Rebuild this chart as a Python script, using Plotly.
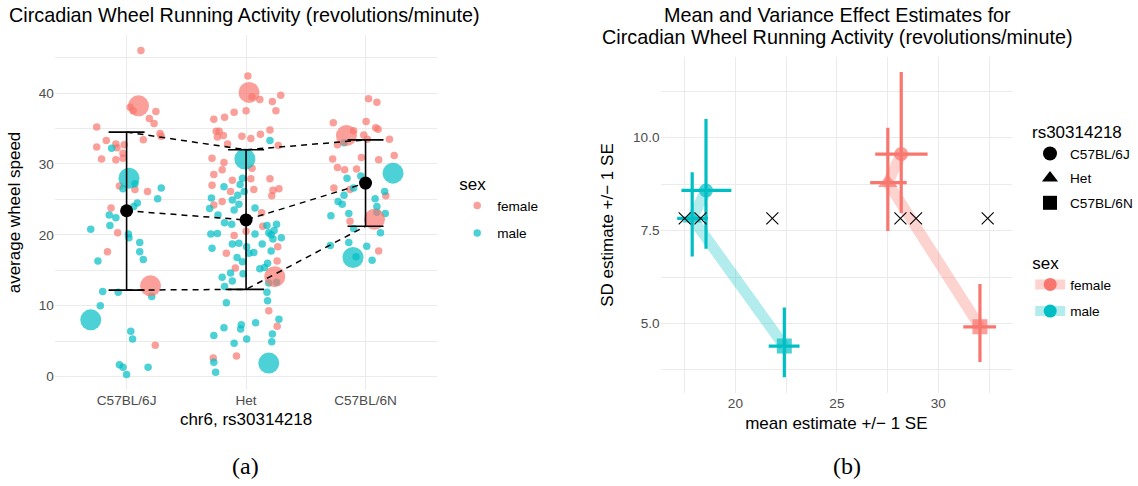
import plotly.graph_objects as go

FONT = "Liberation Sans, Arial, sans-serif"
FEMALE = "#F8766D"
MALE = "#00BFC4"
GRID = "#EBEBEB"

genotypes = ["C57BL/6J", "Het", "C57BL/6N"]

# ---------------- panel (a): jittered individual values ----------------
# per genotype: horizontal jitter offset (category units) and wheel speed
f_6J_dx = [.12, .03, .055, .245, .19, .23, -.25, .28, .29, .14, -.17, -.25, -.09, -.02, -.08, -.03, -.21, -.09, -.03, -.06, .07, .175, -.13, -.075, -.16, .24]
f_6J_y = [46.0, 38.0, 37.5, 37.4, 36.4, 35.7, 35.2, 34.3, 33.9, 33.4, 33.3, 32.4, 32.8, 32.7, 32.3, 31.5, 30.7, 30.6, 30.8, 26.9, 26.4, 26.1, 23.8, 20.3, 17.6, 4.4]
f_Het_dx = [.015, .05, .115, .29, .22, .25, .0, -.10, -.18, -.27, -.25, -.225, -.24, -.19, -.035, .04, .12, .20, -.155, .27, -.285, -.185, -.20, .05, -.27, -.115, .04, .20, -.285, .065, .275, .225, .215, -.13, -.20, -.27, .13, .14, .0, -.10, .265, -.165, .26, -.09, .19, .26, -.275, -.08]
f_Het_y = [42.4, 39.5, 39.1, 39.7, 38.8, 37.5, 37.5, 37.3, 36.6, 36.3, 34.6, 34.6, 33.8, 34.0, 33.9, 33.6, 34.2, 34.8, 32.8, 32.6, 30.8, 30.2, 29.2, 29.4, 28.5, 27.7, 27.9, 27.9, 27.0, 26.4, 26.5, 26.3, 25.5, 26.1, 24.7, 24.2, 23.1, 21.2, 20.5, 19.9, 18.3, 17.4, 16.3, 15.3, 9.3, 7.1, 2.6, 2.9]
f_6N_dx = [.025, .095, -.27, .005, .085, -.10, .105, -.015, .015, -.235, .20, -.275, -.035, .11, .24, -.235, -.175, -.075, -.265, -.13, .17, -.13, .11]
f_6N_y = [39.2, 38.7, 35.8, 36.0, 35.1, 34.7, 34.9, 34.1, 33.5, 32.7, 33.5, 30.7, 30.9, 30.6, 31.2, 29.5, 29.2, 29.3, 26.6, 26.4, 25.5, 21.9, 17.7]

m_6J_dx = [-.125, -.03, .07, .29, .26, .09, .06, -.145, -.09, -.30, -.14, .015, .02, .11, .11, .14, -.24, -.20, -.07, .21, -.22, .035, .05, -.06, -.03, .0, .18]
m_6J_y = [32.2, 26.5, 27.2, 26.6, 25.1, 24.5, 24.0, 22.8, 22.4, 20.8, 21.3, 20.1, 19.6, 18.9, 17.6, 16.5, 16.3, 12.0, 11.9, 11.3, 10.0, 6.4, 5.3, 1.65, 1.3, 0.3, 1.3]
m_Het_dx = [.20, -.03, -.05, -.185, -.015, -.07, -.115, -.06, -.29, -.305, -.10, .075, -.235, -.18, -.12, .175, .255, -.295, -.24, .075, .19, .21, .235, .295, .225, -.285, -.115, -.06, .005, .135, -.075, .065, .21, -.03, .025, .18, .115, .155, -.13, -.025, -.20, -.115, .255, .19, -.18, .175, .18, -.165, .275, .08, -.185, -.04, -.045, -.27, .22, .005, -.10, .215, -.27, -.255]
m_Het_y = [33.3, 28.0, 27.1, 26.8, 26.1, 25.6, 24.9, 24.3, 25.2, 23.7, 23.5, 23.8, 22.8, 21.7, 21.5, 21.3, 21.5, 20.1, 20.2, 20.1, 20.3, 20.0, 20.6, 19.6, 19.4, 18.1, 18.7, 18.8, 18.3, 18.7, 16.8, 17.5, 17.7, 16.2, 17.4, 16.0, 15.2, 15.4, 14.6, 14.5, 14.0, 13.5, 13.3, 13.2, 12.7, 11.9, 10.7, 10.4, 8.1, 7.6, 6.9, 7.3, 6.7, 5.8, 6.0, 5.3, 4.7, 4.9, 2.0, 0.6]
m_6N_dx = [-.18, -.155, -.04, -.10, .16, -.18, -.23, -.195, .08, .095, -.29, -.14, .165, .095, -.10, .125, -.295, -.14, .01, -.08, .055]
m_6N_y = [33.0, 28.0, 28.3, 26.6, 26.1, 25.6, 24.7, 24.3, 25.1, 24.0, 22.7, 23.0, 23.0, 23.2, 20.9, 20.3, 18.5, 18.9, 18.4, 16.9, 16.4]

# highlighted animals (drawn large): genotype, jitter, value
f_hl_geno = ["C57BL/6J", "C57BL/6J", "Het", "Het", "C57BL/6N", "C57BL/6N"]
f_hl_dx = [.10, .20, .025, .24, -.16, .075]
f_hl_y = [38.2, 12.8, 40.1, 14.1, 34.0, 22.2]
m_hl_geno = ["C57BL/6J", "C57BL/6J", "Het", "Het", "C57BL/6N", "C57BL/6N"]
m_hl_dx = [.02, -.30, -.01, .19, .23, -.105]
m_hl_y = [28.0, 8.0, 30.7, 1.9, 28.7, 16.8]

# mean +/- SD per genotype
geno_mean = [23.4, 22.1, 27.3]
geno_upper = [34.5, 32.0, 33.4]
geno_lower = [12.2, 12.3, 21.2]

# ---------------- panel (b): mean and SD estimates ----------------
sexes = ["female", "male"]
est_mean = {"female": [28.17, 27.51, 32.05], "male": [18.55, 17.87, 22.41]}
est_mean_lo = {"female": [26.89, 26.64, 31.23], "male": [17.34, 17.13, 21.64]}
est_mean_hi = {"female": [29.47, 28.44, 32.84], "male": [19.80, 18.64, 23.16]}
est_sd = {"female": [9.56, 8.79, 4.91], "male": [8.58, 7.83, 4.39]}
est_sd_lo = {"female": [7.97, 7.49, 3.96], "male": [7.01, 6.80, 3.55]}
est_sd_hi = {"female": [11.77, 10.27, 6.06], "male": [10.50, 9.07, 5.43]}
cross_x = [17.5, 18.28, 21.82, 28.13, 28.9, 32.43]
cross_y = [7.83, 7.83, 7.83, 7.83, 7.83, 7.83]

pos = {g: i for i, g in enumerate(genotypes)}
fig = go.Figure()

def jitter(geno, dx):
    return [pos[geno] + d for d in dx]

def add_points(color, name, groups, showlegend):
    xs, ys = [], []
    for geno, dx, y in groups:
        xs += jitter(geno, dx)
        ys += y
    fig.add_trace(go.Scatter(x=xs, y=ys, mode="markers", name=name,
                             marker=dict(color=color, size=7.5, opacity=0.7, line=dict(width=0)),
                             showlegend=showlegend, legend="legend", legendgroup=name,
                             xaxis="x", yaxis="y"))

add_points(FEMALE, "female", [("C57BL/6J", f_6J_dx, f_6J_y), ("Het", f_Het_dx, f_Het_y), ("C57BL/6N", f_6N_dx, f_6N_y)], True)
add_points(MALE, "male", [("C57BL/6J", m_6J_dx, m_6J_y), ("Het", m_Het_dx, m_Het_y), ("C57BL/6N", m_6N_dx, m_6N_y)], True)

fig.add_trace(go.Scatter(x=[pos[g] + d for g, d in zip(f_hl_geno, f_hl_dx)], y=f_hl_y, mode="markers",
                         marker=dict(color=FEMALE, size=21, opacity=0.7, line=dict(width=0)),
                         showlegend=False, xaxis="x", yaxis="y"))
fig.add_trace(go.Scatter(x=[pos[g] + d for g, d in zip(m_hl_geno, m_hl_dx)], y=m_hl_y, mode="markers",
                         marker=dict(color=MALE, size=21, opacity=0.7, line=dict(width=0)),
                         showlegend=False, xaxis="x", yaxis="y"))

xg = list(range(len(genotypes)))
for series in (geno_upper, geno_mean, geno_lower):
    fig.add_trace(go.Scatter(x=xg, y=series, mode="lines", line=dict(color="black", width=1.5, dash="6px,5px"),
                             showlegend=False, hoverinfo="skip", xaxis="x", yaxis="y"))

fig.add_trace(go.Scatter(x=xg, y=geno_mean, mode="markers",
                         marker=dict(color="black", size=13),
                         error_y=dict(type="data", symmetric=False,
                                      array=[u - m for u, m in zip(geno_upper, geno_mean)],
                                      arrayminus=[m - l for m, l in zip(geno_mean, geno_lower)],
                                      color="black", thickness=1.6, width=18),
                         showlegend=False, xaxis="x", yaxis="y"))

# panel (b)
colors = {"female": FEMALE, "male": MALE}
fills = {"female": "rgba(248,118,109,0.32)", "male": "rgba(0,191,196,0.30)"}
symbols = ["circle", "triangle-up", "square"]
for s in sexes:
    fig.add_trace(go.Scatter(x=est_mean[s], y=est_sd[s], mode="lines",
                             line=dict(color=fills[s], width=11),
                             showlegend=False, hoverinfo="skip", xaxis="x2", yaxis="y2"))
for s in sexes:
    m, sd = est_mean[s], est_sd[s]
    fig.add_trace(go.Scatter(
        x=m, y=sd, mode="markers",
        marker=dict(color=colors[s], size=[14, 17, 15], symbol=symbols, line=dict(width=0)),
        error_x=dict(type="data", symmetric=False,
                     array=[h - v for h, v in zip(est_mean_hi[s], m)],
                     arrayminus=[v - l for v, l in zip(m, est_mean_lo[s])],
                     color=colors[s], thickness=3.2, width=0),
        error_y=dict(type="data", symmetric=False,
                     array=[h - v for h, v in zip(est_sd_hi[s], sd)],
                     arrayminus=[v - l for v, l in zip(sd, est_sd_lo[s])],
                     color=colors[s], thickness=3.2, width=0),
        showlegend=False, xaxis="x2", yaxis="y2"))

fig.add_trace(go.Scatter(x=cross_x, y=cross_y, mode="markers",
                         marker=dict(symbol="x-thin", size=12, color="black", line=dict(width=1.1, color="black")),
                         showlegend=False, xaxis="x2", yaxis="y2"))

# legend entries for panel (b)
for g, sym in zip(genotypes, symbols):
    fig.add_trace(go.Scatter(x=[None], y=[None], mode="markers", name=g,
                             marker=dict(color="black", size=14, symbol=sym),
                             legend="legend2", legendgroup="g_" + g, xaxis="x2", yaxis="y2"))
for s in sexes:
    fig.add_trace(go.Scatter(x=[None], y=[None], mode="lines+markers", name=s,
                             line=dict(color=fills[s], width=10),
                             marker=dict(color=colors[s], size=13, symbol="circle"),
                             legend="legend3", legendgroup="s_" + s, xaxis="x2", yaxis="y2"))

W, H = 1138, 486
def px(v):
    return v / W
def py(v):
    return 1 - v / H

tickfont = dict(family=FONT, size=13.6, color="#4D4D4D")
titlefont = dict(family=FONT, size=17, color="black")
TITLE_SIZE = 19.8

fig.update_layout(
    width=W, height=H, margin=dict(l=0, r=0, t=0, b=0),
    paper_bgcolor="white", plot_bgcolor="white",
    font=dict(family=FONT, color="black"),
    xaxis=dict(domain=[px(55), px(438)], range=[-0.6, 2.6], tickmode="array", tickvals=xg, ticktext=genotypes,
               showgrid=True, gridcolor=GRID, gridwidth=1.4, zeroline=False, showline=False, ticks="",
               tickfont=tickfont, title=dict(text="chr6, rs30314218", font=titlefont, standoff=6)),
    yaxis=dict(domain=[py(390), py(35)], range=[-1.9, 48.2], tickmode="linear", tick0=0, dtick=10,
               showgrid=True, gridcolor=GRID, gridwidth=1.4, zeroline=False, ticks="",
               minor=dict(tickmode="linear", tick0=0, dtick=5, showgrid=True, gridcolor=GRID, gridwidth=0.7),
               tickfont=tickfont, title=dict(text="average wheel speed", font=titlefont, standoff=13)),
    xaxis2=dict(domain=[px(661.7), px(1014)], range=[16.31, 33.64], tickmode="linear", tick0=0, dtick=5,
                showgrid=True, gridcolor=GRID, gridwidth=1.4, zeroline=False, ticks="",
                minor=dict(tickmode="linear", tick0=0, dtick=2.5, showgrid=True, gridcolor=GRID, gridwidth=0.7),
                tickfont=tickfont, title=dict(text="mean estimate +/\u2212 1 SE", font=titlefont, standoff=7),
                anchor="y2"),
    yaxis2=dict(domain=[py(393.3), py(56.7)], range=[3.12, 12.18], tickmode="linear", tick0=0, dtick=2.5,
                tickformat=".1f", showgrid=True, gridcolor=GRID, gridwidth=1.4, zeroline=False, ticks="",
                minor=dict(tickmode="linear", tick0=0, dtick=1.25, showgrid=True, gridcolor=GRID, gridwidth=0.7),
                tickfont=tickfont, title=dict(text="SD estimate +/\u2212 1 SE", font=titlefont, standoff=15),
                anchor="x2"),
    legend=dict(title=dict(text="sex", font=dict(family=FONT, size=17)), font=dict(family=FONT, size=13.6),
                x=px(458), y=py(168), xanchor="left", yanchor="top", bgcolor="rgba(0,0,0,0)",
                tracegroupgap=7, itemwidth=30),
    legend2=dict(title=dict(text="rs30314218", font=dict(family=FONT, size=17)), font=dict(family=FONT, size=13.6),
                 x=px(1032), y=py(116), xanchor="left", yanchor="top", bgcolor="rgba(0,0,0,0)",
                 tracegroupgap=4, itemwidth=30),
    legend3=dict(title=dict(text="sex", font=dict(family=FONT, size=17)), font=dict(family=FONT, size=13.6),
                 x=px(1032), y=py(247), xanchor="left", yanchor="top", bgcolor="rgba(0,0,0,0)",
                 tracegroupgap=6, itemwidth=30),
    annotations=[
        dict(text="Circadian Wheel Running Activity (revolutions/minute)", x=px(7), y=py(15),
             xref="paper", yref="paper", xanchor="left", yanchor="middle", showarrow=False,
             font=dict(family=FONT, size=TITLE_SIZE, color="black")),
        dict(text="Mean and Variance Effect Estimates for",
             x=px(839), y=py(15), xref="paper", yref="paper", xanchor="center", yanchor="middle", showarrow=False,
             font=dict(family=FONT, size=TITLE_SIZE, color="black")),
        dict(text="Circadian Wheel Running Activity (revolutions/minute)",
             x=px(839), y=py(37), xref="paper", yref="paper", xanchor="center", yanchor="middle", showarrow=False,
             font=dict(family=FONT, size=TITLE_SIZE, color="black")),
        dict(text="(a)", x=px(246), y=py(466), xref="paper", yref="paper", xanchor="center", yanchor="middle",
             showarrow=False, font=dict(family="Liberation Serif, Times New Roman, serif", size=24, color="black")),
        dict(text="(b)", x=px(848), y=py(466), xref="paper", yref="paper", xanchor="center", yanchor="middle",
             showarrow=False, font=dict(family="Liberation Serif, Times New Roman, serif", size=24, color="black")),
    ],
)

fig.write_html("out.html")
